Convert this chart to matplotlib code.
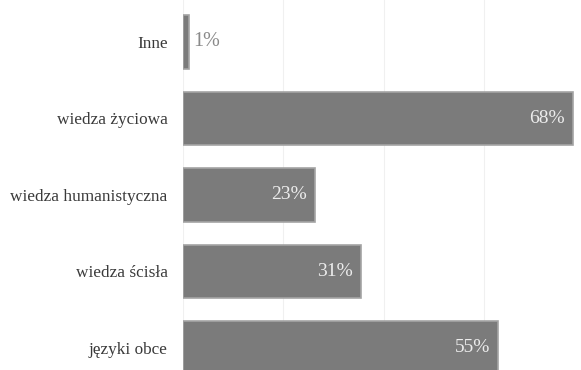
import matplotlib.pyplot as plt

categories = ['Inne', 'wiedza życiowa', 'wiedza humanistyczna', 'wiedza ścisła', 'języki obce']
values = [1, 68, 23, 31, 55]
labels = ['1%', '68%', '23%', '31%', '55%']
grid_ticks = [0, 17.5, 35, 52.5]

plt.rcParams['font.family'] = ['Liberation Serif', 'DejaVu Serif']

fig = plt.figure(figsize=(5.81, 3.70), dpi=100)
ax = fig.add_axes([0.315, 0.0, 0.685, 1.0])

pos = list(range(len(categories)))
bars = ax.barh(pos, values, height=0.7, color='#7b7b7b', edgecolor='#a4a4a4',
               linewidth=1.2, zorder=2)

for y, v, lab in zip(pos, values, labels):
    if v < 5:
        ax.annotate(lab, (v, y), xytext=(3, 0), textcoords='offset points',
                    ha='left', va='center', fontsize=14.5, color='#8a8a8a')
    else:
        ax.annotate(lab, (v, y), xytext=(-6, 0), textcoords='offset points',
                    ha='right', va='center', fontsize=14, color='#ececec')

ax.set_xlim(0, 69.4)
ax.set_ylim(4.288, -0.549)
ax.set_xticks(grid_ticks)
ax.xaxis.grid(True, color='#f0f0f0', linewidth=0.8, zorder=0)
ax.set_axisbelow(True)
ax.tick_params(axis='x', length=0, labelbottom=False)
ax.set_yticks(pos)
ax.set_yticklabels(categories, fontsize=12.4, color='#3a3a3a')
ax.tick_params(axis='y', length=0, pad=11)
for s in ax.spines.values():
    s.set_visible(False)

fig.savefig('out.png', dpi=100)
